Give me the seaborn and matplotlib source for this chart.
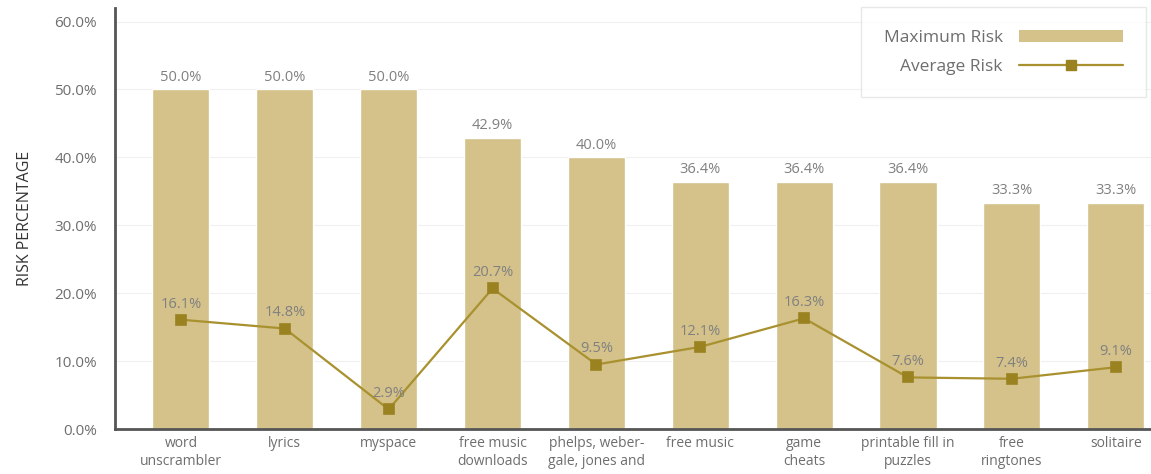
import matplotlib
matplotlib.use("Agg")
import matplotlib.pyplot as plt
import seaborn as sns
import pandas as pd
from matplotlib.patches import Patch
from matplotlib.lines import Line2D

categories = ["word\nunscrambler", "lyrics", "myspace", "free music\ndownloads",
              "phelps, weber-\ngale, jones and", "free music", "game\ncheats",
              "printable fill in\npuzzles", "free\nringtones", "solitaire"]
max_risk = [50.0, 50.0, 50.0, 42.9, 40.0, 36.4, 36.4, 36.4, 33.3, 33.3]
avg_risk = [16.1, 14.8, 2.9, 20.7, 9.5, 12.1, 16.3, 7.6, 7.4, 9.1]
y_ticks = [0, 10, 20, 30, 40, 50, 60]

BAR = "#d4c28a"
LINE = "#a8912e"
MARK = "#9a8220"
TEXT = "#6e6e6e"
VAL = "#808080"

sns.set_theme(style="white")
plt.rcParams["font.family"] = ["Open Sans", "DejaVu Sans"]

df = pd.DataFrame({"cat": categories, "max": max_risk, "avg": avg_risk})

fig = plt.figure(figsize=(11.51, 4.74), dpi=100)
ax = fig.add_axes([0.0999, 0.0949, 0.9001, 0.8882])

sns.barplot(data=df, x="cat", y="max", color=BAR, saturation=1, width=0.55, ax=ax, zorder=2)
sns.pointplot(data=df, x="cat", y="avg", color=LINE, markers="s", markersize=7.5,
              linewidth=1.6, ax=ax, zorder=3)
for ln in ax.lines:
    ln.set_markerfacecolor(MARK)
    ln.set_markeredgecolor(MARK)

for i, v in enumerate(max_risk):
    ax.text(i, v + 0.7, f"{v:.1f}%", ha="center", va="bottom", fontsize=10.5, color=VAL)
for i, v in enumerate(avg_risk):
    ax.text(i, v + 1.2, f"{v:.1f}%", ha="center", va="bottom", fontsize=10.5, color=VAL, zorder=4)

ax.set_ylim(0, 62)
ax.set_xlim(-0.635, 9.34)
ax.set_yticks(y_ticks)
ax.set_yticklabels([f"{t:.1f}%" for t in y_ticks], fontsize=11, color=TEXT)
ax.tick_params(axis="x", labelsize=10, labelcolor=TEXT, length=0, pad=5)
ax.tick_params(axis="y", length=0, pad=13)
for lab in ax.get_xticklabels():
    lab.set_linespacing(1.3)
ax.set_xlabel("")
ax.set_ylabel("RISK PERCENTAGE", fontsize=11.5, color="#333333", labelpad=15)
ax.yaxis.grid(True, color="#f0f0f0", linewidth=0.8, zorder=0)
ax.set_axisbelow(True)

for s in ["top", "right"]:
    ax.spines[s].set_visible(False)
for s in ["left", "bottom"]:
    ax.spines[s].set_color("#555555")
    ax.spines[s].set_linewidth(2)

handles = [Patch(facecolor=BAR, edgecolor="none"),
           Line2D([0], [0], color=LINE, lw=1.6, marker="s", markersize=7.5,
                  markerfacecolor=MARK, markeredgecolor=MARK)]
leg = fig.legend(handles, ["Maximum Risk", "Average Risk"], loc="upper right",
                 bbox_to_anchor=(1146 / 1151, 1 - 7 / 474), markerfirst=False,
                 fontsize=12.5, handlelength=6.0, handleheight=0.75, labelspacing=0.72,
                 borderpad=1.3, handletextpad=0.95, frameon=True, fancybox=False,
                 borderaxespad=0)
leg.get_frame().set_edgecolor("#e3e3e3")
leg.get_frame().set_linewidth(1)
for t in leg.get_texts():
    t.set_color(TEXT)

fig.savefig("out.png", dpi=100)
